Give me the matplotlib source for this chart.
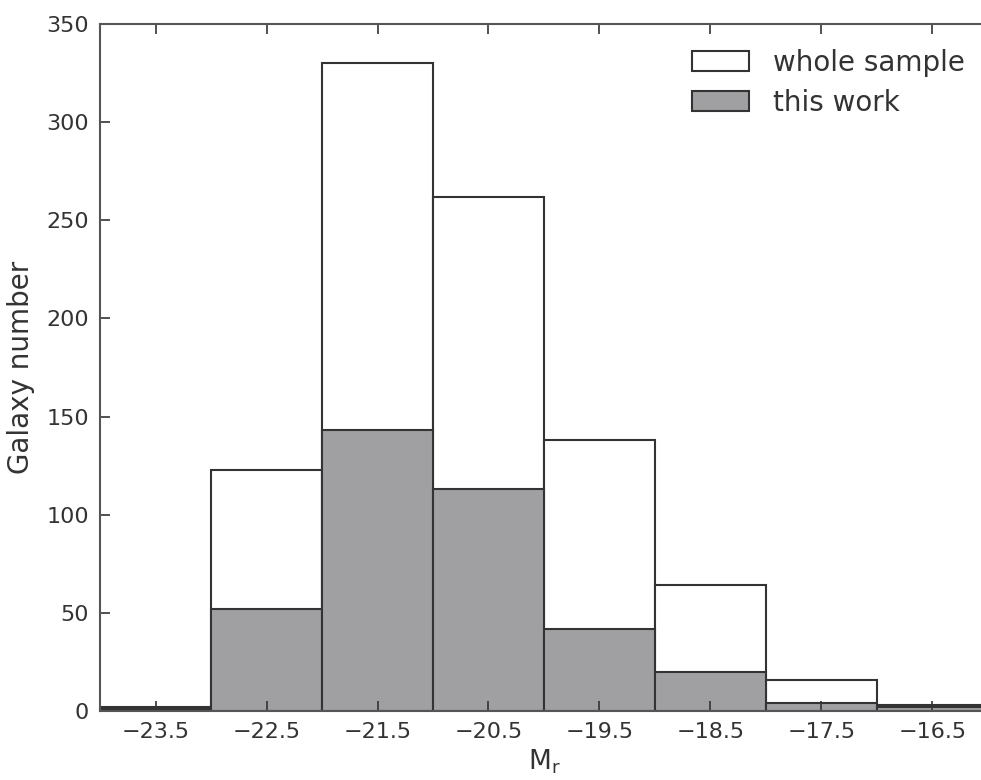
import numpy as np
import matplotlib
matplotlib.use("Agg")
import matplotlib.pyplot as plt

# bin edges in absolute magnitude M_r (width 1)
bin_edges = [-24, -23, -22, -21, -20, -19, -18, -17, -16]
whole_sample = [2, 123, 330, 262, 138, 64, 16, 3]
this_work = [1, 52, 143, 113, 42, 20, 4, 2]
xticks = [-23.5, -22.5, -21.5, -20.5, -19.5, -18.5, -17.5, -16.5]
yticks = [0, 50, 100, 150, 200, 250, 300, 350]

txt = "#333333"
edge = "#333333"
plt.rcParams["font.family"] = ["DejaVu Sans"]

fig = plt.figure(figsize=(9.81, 7.80), dpi=100)
ax = fig.add_axes([0.102, 0.0885, 0.905, 0.8808])

left = np.array(bin_edges[:-1])
widths = np.diff(bin_edges)
ax.bar(left, whole_sample, width=widths, align="edge", facecolor="white",
       edgecolor=edge, linewidth=1.5, label="whole sample")
ax.bar(left, this_work, width=widths, align="edge", facecolor="#a0a0a2",
       edgecolor=edge, linewidth=1.5, label="this work")

ax.set_xlim(bin_edges[0], bin_edges[-1])
ax.set_ylim(0, 350)
ax.set_xticks(xticks)
ax.set_xticklabels([f"\u2212{abs(t):.1f}" for t in xticks])
ax.set_yticks(yticks)
ax.tick_params(direction="in", length=7, width=1.2, top=True, right=False,
               labelsize=16, colors=txt, pad=8)
for s in ax.spines.values():
    s.set_color("#555555")
    s.set_linewidth(1.5)

ax.set_xlabel(r"$\mathregular{M_r}$", fontsize=19, color=txt, labelpad=4)
ax.set_ylabel("Galaxy number", fontsize=20, color=txt, labelpad=8)

leg = ax.legend(loc="upper right", bbox_to_anchor=(1.002, 1.0), frameon=False,
                fontsize=20, handlelength=2.05, handleheight=0.72,
                handletextpad=0.85, labelspacing=0.42)
for t in leg.get_texts():
    t.set_color(txt)

fig.savefig("out.png", dpi=100)
